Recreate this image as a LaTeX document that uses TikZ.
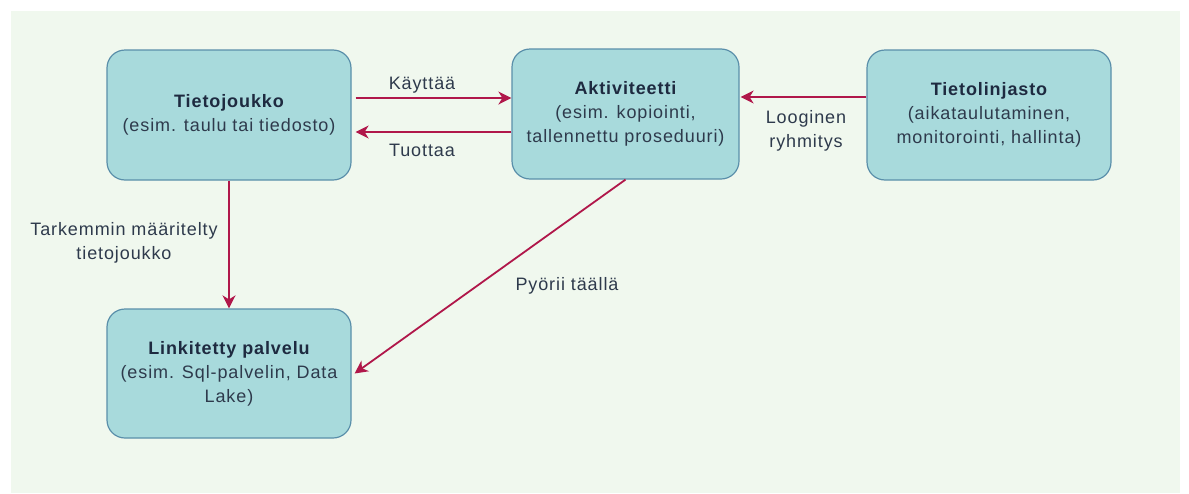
\documentclass[tikz,border=0pt]{standalone}
\usepackage{fontspec}
\setmainfont[LetterSpace=5]{Liberation Sans}
\usetikzlibrary{arrows.meta}
\definecolor{pagebg}{HTML}{F0F8EE}
\definecolor{boxfill}{HTML}{A8DADC}
\definecolor{boxline}{HTML}{5A8FAA}
\definecolor{flow}{HTML}{B0174A}
\definecolor{ink}{HTML}{2E3A4C}
\definecolor{titleink}{HTML}{1E2A40}
\tikzset{
  box/.style={draw=boxline, line width=1.2pt, fill=boxfill, rounded corners=18pt,
    minimum width=244pt, minimum height=130pt, align=center, text=ink,
    inner sep=0pt, font=\fontsize{18}{24}\selectfont},
  flowline/.style={draw=flow, line width=1.8pt,
    -{Stealth[length=13pt, width=13pt, inset=4pt]}},
  lbl/.style={text=ink, align=center, font=\fontsize{18}{24}\selectfont, inner sep=0pt}
}
\newcommand{\boxtitle}[1]{{\color{titleink}\bfseries #1}}
\begin{document}
\begin{tikzpicture}[x=1pt, y=-1pt]
  \useasboundingbox (0,0) rectangle (1189,493);
  \fill[pagebg] (11,11) rectangle (1180,493);

  \node[box] (data) at (229,115) {\boxtitle{Tietojoukko}\\(esim. taulu tai tiedosto)};
  \node[box, minimum width=227pt] (act) at (625.5,114) {\boxtitle{Aktiviteetti}\\(esim. kopiointi,\\tallennettu proseduuri)};
  \node[box] (pipe) at (989,115) {\boxtitle{Tietolinjasto}\\(aikataulutaminen,\\monitorointi, hallinta)};
  \node[box, minimum height=129pt] (link) at (229,373.5) {\boxtitle{Linkitetty palvelu}\\(esim. Sql-palvelin, Data\\Lake)};

  \draw[flowline] ([xshift=4pt]data.east |- 0,98) -- (act.west |- 0,98);
  \draw[flowline] (act.west |- 0,132) -- ([xshift=4pt]data.east |- 0,132);
  \draw[flowline] (pipe.west |- 0,97) -- ([xshift=1pt]act.east |- 0,97);
  \draw[flowline] (data.south) -- (link.north);
  \draw[flowline] (act.south) -- ([xshift=3pt]link.east);

  \node[lbl] (l1) at (422,85) {Käyttää};
  \node[lbl] (l2) at (422,150) {Tuottaa};
  \node[lbl] (l3) at (806,131) {Looginen\\ryhmitys};
  \node[lbl] (l4) at (124,243) {Tarkemmin määritelty\\tietojoukko};
  \node[lbl] (l5) at (567,286) {Pyörii täällä};
\end{tikzpicture}
\end{document}
